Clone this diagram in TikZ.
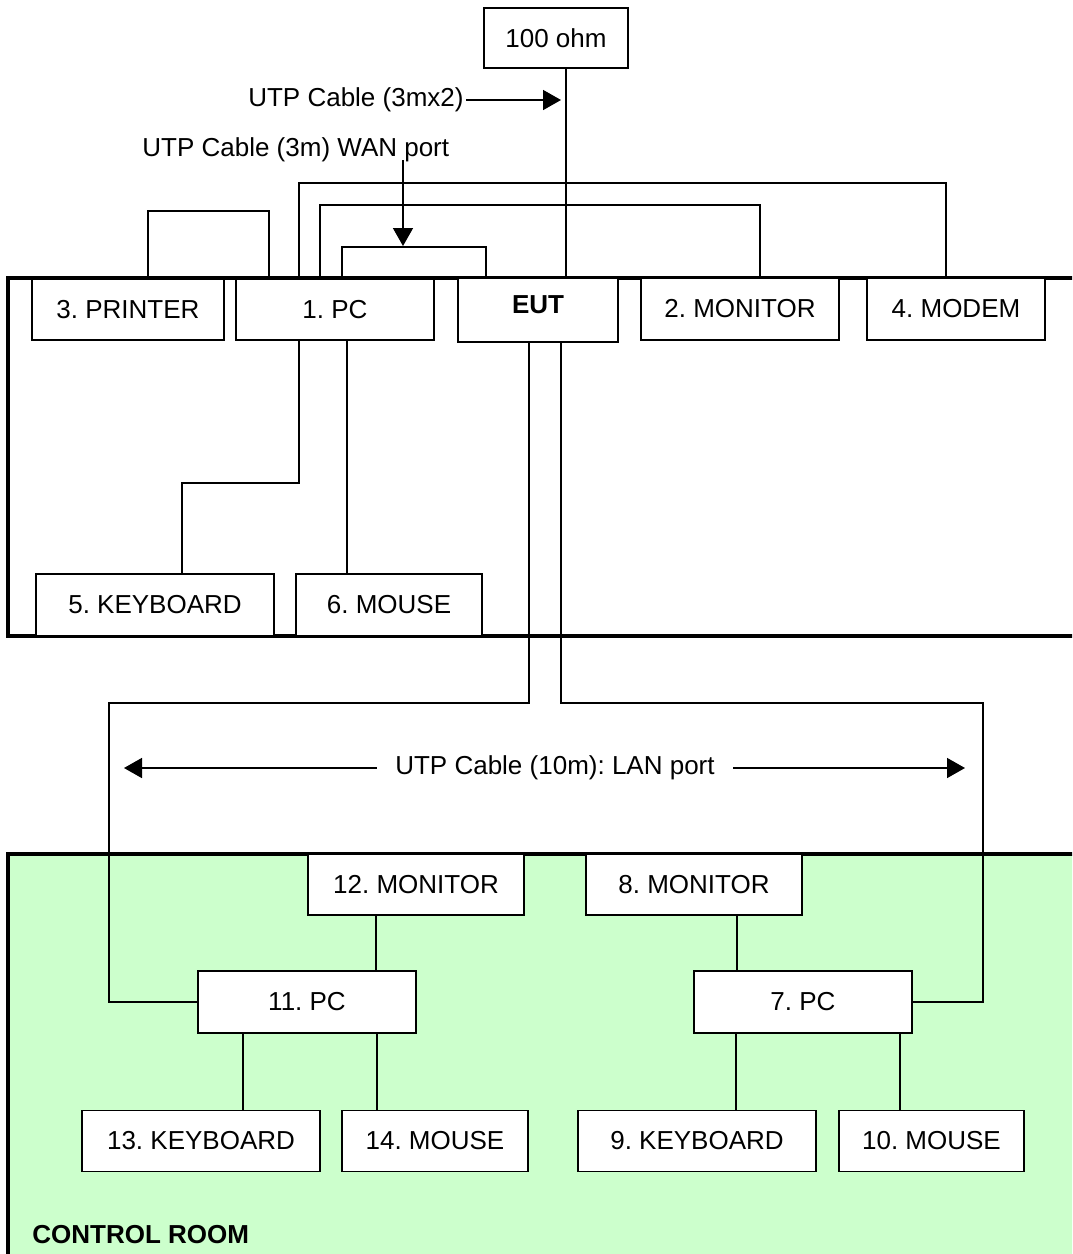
\documentclass[tikz,border=0pt]{standalone}
\usepackage{fontspec}
\setmainfont{Liberation Sans}
\usepackage{xcolor}
\usetikzlibrary{arrows.meta}
\definecolor{roomgreen}{HTML}{CCFFCC}
\frenchspacing

\begin{document}
\begin{tikzpicture}[x=0.5pt, y=-0.5pt, font=\fontsize{13}{15}\selectfont,
    box/.style={draw, fill=white, line width=0.9pt, inner sep=0pt},
    wire/.style={line width=0.8pt},
    room/.style={line width=1.6pt},
    tip/.style={-{Triangle[length=9pt,width=10pt]}, line width=0.8pt}]
    \useasboundingbox (0,0) rectangle (1072,1254);
    \clip (0,0) rectangle (1072,1254);

    % rooms
    \fill[roomgreen] (8,854) rectangle (1080,1260);
    \draw[room] (1080,854) -| (8,1260);
    \draw[room] (1080,278) -| (8,636) -- (1080,636);

    % test site
    \node[box, minimum width=72pt, minimum height=30pt] (ohm) at (556,38) {100 ohm};
    \node[box, minimum width=96pt, minimum height=30.5pt] (prn) at (128,309.5) {3. PRINTER};
    \node[box, minimum width=99pt, minimum height=30.5pt] (pc1) at (335,309.5) {1. PC};
    \node[box, minimum width=80pt, minimum height=32pt] (eut) at (538,310) {\raisebox{5pt}{\textbf{EUT}}};
    \node[box, minimum width=99pt, minimum height=31pt] (mon2) at (740,309) {2. MONITOR};
    \node[box, minimum width=89pt, minimum height=31pt] (mdm) at (956,309) {4. MODEM};
    \node[box, minimum width=119pt, minimum height=31pt] (kb5) at (155,605) {5. KEYBOARD};
    \node[box, minimum width=93pt, minimum height=31pt] (ms6) at (389,605) {6. MOUSE};

    % control room
    \node[box, minimum width=108pt, minimum height=30.5pt] (mon12) at (416,884.5) {12. MONITOR};
    \node[box, minimum width=108pt, minimum height=30.5pt] (mon8) at (694,884.5) {8. MONITOR};
    \node[box, minimum width=109pt, minimum height=31pt] (pc11) at (307,1002) {11. PC};
    \node[box, minimum width=109pt, minimum height=31pt] (pc7) at (803,1002) {7. PC};
    \node[box, minimum width=119pt, minimum height=30.5pt] (kb13) at (201,1141) {13. KEYBOARD};
    \node[box, minimum width=93pt, minimum height=30.5pt] (ms14) at (435,1141) {14. MOUSE};
    \node[box, minimum width=119pt, minimum height=30.5pt] (kb9) at (697,1141) {9. KEYBOARD};
    \node[box, minimum width=92.5pt, minimum height=30.5pt] (ms10) at (931.5,1141) {10. MOUSE};

    % labels
    \node[anchor=east, inner sep=1pt] (c3x2) at (466,100) {UTP Cable (3mx2)};
    \node[anchor=west, inner sep=0pt] (wan) at (142,150) {UTP Cable (3m) WAN port};
    \node[inner xsep=9pt, inner ysep=0pt] (lan) at (555,768) {UTP Cable (10m): LAN port};
    \node[anchor=west, inner sep=0pt, font=\fontsize{13}{15}\selectfont\bfseries] (ctrl) at (32,1235) {CONTROL ROOM};

    \coordinate (hit1) at (561,100);
    \coordinate (wanA) at (403,160);
    \coordinate (wanB) at (403,246);
    \coordinate (lanL) at (124,768);
    \coordinate (lanR) at (965,768);

    \draw[tip] (c3x2.east) -- (hit1);
    \draw[tip] (wanA) -- (wanB);
    \draw[tip] (lan.west) -- (lanL);
    \draw[tip] (lan.east) -- (lanR);

    % cables
    \draw[wire] ([xshift=5pt]ohm.south) coordinate (o) -- (o |- eut.north);
    \draw[wire] ([xshift=10pt]prn.north) -- ++(0,-67) -| ([xshift=17pt]pc1.north west);
    \draw[wire] ([xshift=53.5pt]pc1.north west) -- ++(0,-31) -| ([xshift=14.5pt]eut.north west);
    \draw[wire] ([xshift=42.5pt]pc1.north west) -- ++(0,-73) -| ([xshift=60pt]mon2.north west);
    \draw[wire] ([xshift=32pt]pc1.north west) -- ++(0,-95) -| ([xshift=40pt]mdm.north west);
    \draw[wire] ([xshift=32pt]pc1.south west) -- ++(0,142) -| ([xshift=13.5pt]kb5.north);
    \draw[wire] ([xshift=56pt]pc1.south west) coordinate (m6) -- (m6 |- ms6.north);
    \draw[wire] ([xshift=36pt]eut.south west) -- ++(0,360) -| ([xshift=-44pt]pc11.west) -- (pc11.west);
    \draw[wire] ([xshift=52pt]eut.south west) -- ++(0,360) -| ([xshift=35pt]pc7.east) -- (pc7.east);
    \draw[wire] ([xshift=-20pt]mon12.south) coordinate (m12) -- (m12 |- pc11.north);
    \draw[wire] ([xshift=21.5pt]mon8.south) coordinate (m8) -- (m8 |- pc7.north);
    \draw[wire] ([xshift=-32pt]pc11.south) coordinate (k13) -- (k13 |- kb13.north);
    \draw[wire] ([xshift=35pt]pc11.south) coordinate (k14) -- (k14 |- ms14.north);
    \draw[wire] ([xshift=-33.5pt]pc7.south) coordinate (k9) -- (k9 |- kb9.north);
    \draw[wire] ([xshift=48.5pt]pc7.south) coordinate (k10) -- (k10 |- ms10.north);
\end{tikzpicture}
\end{document}
